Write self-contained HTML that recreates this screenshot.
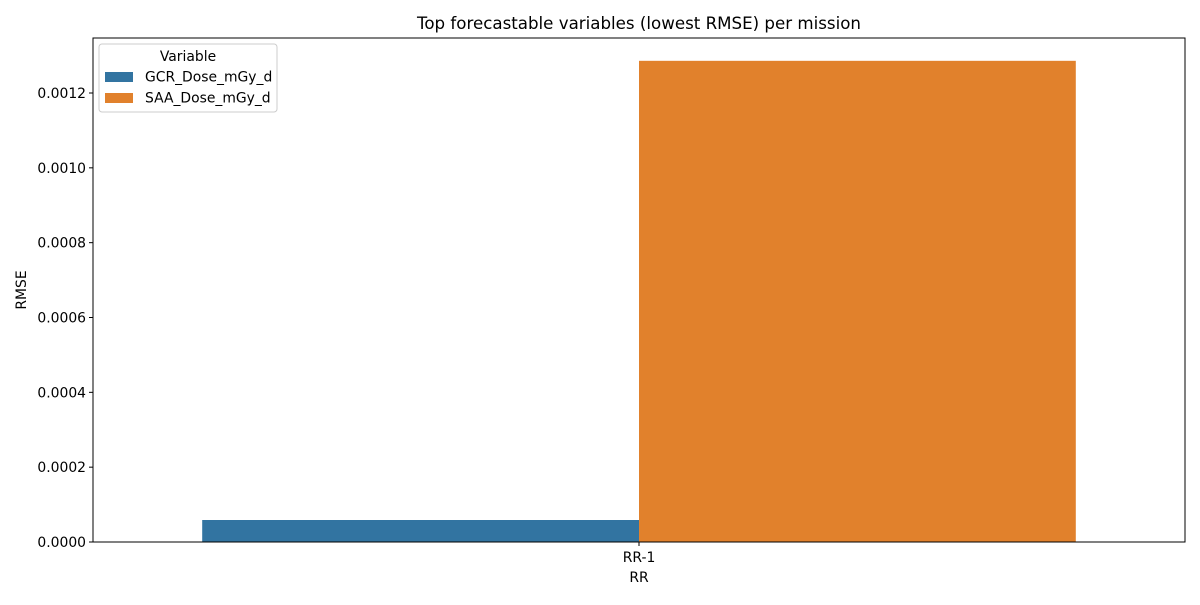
<!DOCTYPE html>
<html><head><meta charset="utf-8"><style>
body{margin:0;background:#fff}
svg text{font-family:"DejaVu Sans","Liberation Sans",sans-serif;fill:#000}
</style></head><body>
<svg id="chart" width="1200" height="600" xmlns="http://www.w3.org/2000/svg">
<rect width="1200" height="600" fill="#fff"/>
<text x="639" y="29" font-size="16.67" text-anchor="middle">Top forecastable variables (lowest RMSE) per mission</text>
<g id="bars"></g>
<g id="yaxis"></g>
<rect x="93" y="38" width="1092" height="504" fill="none" stroke="#000" stroke-width="1"/>
<g id="xaxis"></g>
<text x="639" y="582" font-size="13.9" text-anchor="middle">RR</text>
<text transform="translate(26,290) rotate(-90)" font-size="13.9" text-anchor="middle">RMSE</text>
<g>
<rect x="99" y="44" width="178" height="68" rx="3" fill="#fff" stroke="#ccc" fill-opacity="0.8"/>
<text x="188" y="61" font-size="13.9" text-anchor="middle">Variable</text>
<rect x="105" y="72" width="28" height="10" fill="#3274a1"/>
<text x="145" y="81.5" font-size="13.9">GCR_Dose_mGy_d</text>
<rect x="105" y="93" width="28" height="10" fill="#e1812c"/>
<text x="145" y="102.5" font-size="13.9">SAA_Dose_mGy_d</text>
</g>
</svg>
<script>
const categories = ["RR-1"];
const seriesNames = ["GCR_Dose_mGy_d","SAA_Dose_mGy_d"];
const gcrValues = [0.0000588];
const saaValues = [0.001286];
const yTicks = [0,0.0002,0.0004,0.0006,0.0008,0.0010,0.0012];
const yTickLabels = ["0.0000","0.0002","0.0004","0.0006","0.0008","0.0010","0.0012"];
const colors = ["#3274a1","#e1812c"];
const L=93,R=1185,T=38,B=542,yMax=0.001347;
const y=v=>B-(v/yMax)*(B-T);
const bandW=(R-L)/categories.length;
const x=i=>L+bandW*(i+0.5);
const ns="http://www.w3.org/2000/svg";
const bars=document.getElementById('bars'),ya=document.getElementById('yaxis'),xa=document.getElementById('xaxis');
const series=[gcrValues,saaValues];
const bw=bandW*0.8/series.length;
categories.forEach((c,i)=>{
  series.forEach((vals,s)=>{
    const r=document.createElementNS(ns,'rect');
    
    
    const x0=x(i)-bandW*0.4+s*bw;
    r.setAttribute('x',x0);r.setAttribute('width',bw);
    r.setAttribute('y',y(vals[i]));r.setAttribute('height',B-y(vals[i]));
    r.setAttribute('fill',colors[s]);
    bars.appendChild(r);
  });
  const t=document.createElementNS(ns,'line');
  
  
  t.setAttribute('x1',x(i));t.setAttribute('x2',x(i));t.setAttribute('y1',B);t.setAttribute('y2',B+4);t.setAttribute('stroke','#000');
  xa.appendChild(t);
  const l=document.createElementNS(ns,'text');
  
  
  l.setAttribute('x',x(i));l.setAttribute('y',B+20);l.setAttribute('font-size','13.9');l.setAttribute('text-anchor','middle');
  l.textContent=c;xa.appendChild(l);
});
yTicks.forEach((v,k)=>{
  const t=document.createElementNS(ns,'line');
  
  
  t.setAttribute('x1',L-4);t.setAttribute('x2',L);t.setAttribute('y1',y(v));t.setAttribute('y2',y(v));t.setAttribute('stroke','#000');
  ya.appendChild(t);
  const l=document.createElementNS(ns,'text');
  
  
  l.setAttribute('x',L-7);l.setAttribute('y',y(v)+5);l.setAttribute('font-size','13.9');l.setAttribute('text-anchor','end');
  l.textContent=yTickLabels[k];ya.appendChild(l);
});
</script>
</body></html>
